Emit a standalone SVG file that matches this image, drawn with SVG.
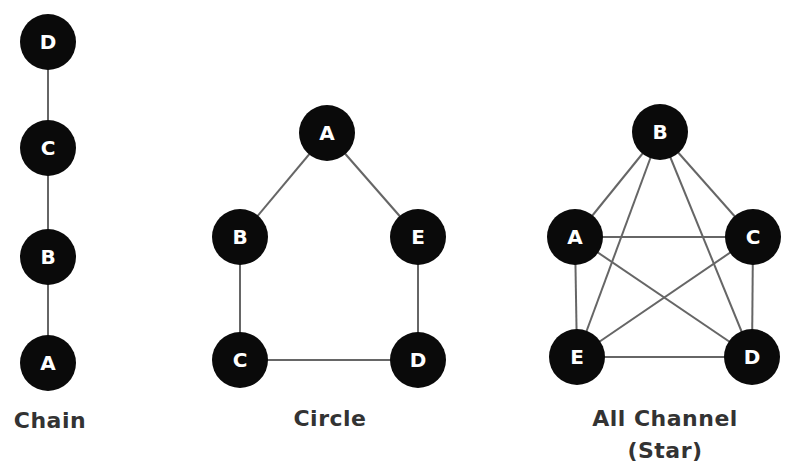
<svg xmlns="http://www.w3.org/2000/svg" width="785" height="471" viewBox="0 0 785 471">
<style>
.n circle{fill:#0a0a0a}
.n text{fill:#fff;font-family:"DejaVu Sans",Verdana,sans-serif;font-weight:bold;font-size:20px;text-anchor:middle}
.e line{stroke:#666;stroke-width:2}
.lbl{fill:#333;font-family:"DejaVu Sans",Verdana,sans-serif;font-weight:bold;font-size:22px;letter-spacing:0.5px;text-anchor:middle}
</style>
<rect width="785" height="471" fill="#fff"/>
<g id="connectors" class="e">
<line x1="48" y1="42" x2="48" y2="148"/>
<line x1="48" y1="148" x2="48" y2="257"/>
<line x1="48" y1="257" x2="48" y2="363"/>
<line x1="327" y1="133" x2="240" y2="237"/>
<line x1="327" y1="133" x2="418" y2="237"/>
<line x1="240" y1="237" x2="240" y2="360"/>
<line x1="418" y1="237" x2="418" y2="360"/>
<line x1="240" y1="360" x2="418" y2="360"/>
<line x1="660" y1="132" x2="575" y2="237"/>
<line x1="660" y1="132" x2="753" y2="237"/>
<line x1="660" y1="132" x2="577" y2="357"/>
<line x1="660" y1="132" x2="752" y2="357"/>
<line x1="575" y1="237" x2="753" y2="237"/>
<line x1="575" y1="237" x2="752" y2="357"/>
<line x1="575" y1="237" x2="577" y2="357"/>
<line x1="753" y1="237" x2="577" y2="357"/>
<line x1="753" y1="237" x2="752" y2="357"/>
<line x1="577" y1="357" x2="752" y2="357"/>
</g>
<g id="chain-D" class="n"><circle cx="48" cy="42" r="28"/><text x="48" y="49">D</text></g>
<g id="chain-C" class="n"><circle cx="48" cy="148" r="28"/><text x="48" y="155">C</text></g>
<g id="chain-B" class="n"><circle cx="48" cy="257" r="28"/><text x="48" y="264">B</text></g>
<g id="chain-A" class="n"><circle cx="48" cy="363" r="28"/><text x="48" y="370">A</text></g>
<text class="lbl" x="50" y="428">Chain</text>
<g id="circle-A" class="n"><circle cx="327" cy="133" r="28"/><text x="327" y="140">A</text></g>
<g id="circle-B" class="n"><circle cx="240" cy="237" r="28"/><text x="240" y="244">B</text></g>
<g id="circle-E" class="n"><circle cx="418" cy="237" r="28"/><text x="418" y="244">E</text></g>
<g id="circle-C" class="n"><circle cx="240" cy="360" r="28"/><text x="240" y="367">C</text></g>
<g id="circle-D" class="n"><circle cx="418" cy="360" r="28"/><text x="418" y="367">D</text></g>
<text class="lbl" x="330" y="426">Circle</text>
<g id="star-B" class="n"><circle cx="660" cy="132" r="28"/><text x="660" y="139">B</text></g>
<g id="star-A" class="n"><circle cx="575" cy="237" r="28"/><text x="575" y="244">A</text></g>
<g id="star-C" class="n"><circle cx="753" cy="237" r="28"/><text x="753" y="244">C</text></g>
<g id="star-E" class="n"><circle cx="577" cy="357" r="28"/><text x="577" y="364">E</text></g>
<g id="star-D" class="n"><circle cx="752" cy="357" r="28"/><text x="752" y="364">D</text></g>
<text class="lbl" x="665" y="426">All Channel</text>
<text class="lbl" x="665" y="458">(Star)</text>
</svg>
